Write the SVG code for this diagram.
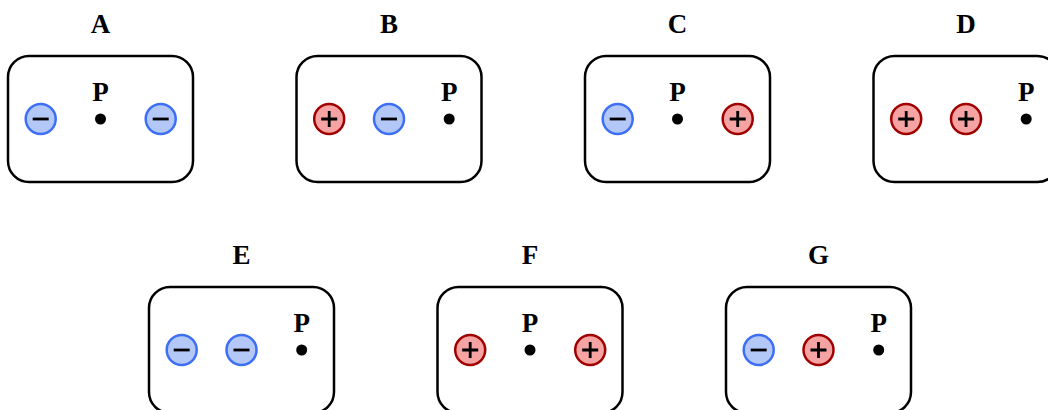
<svg xmlns="http://www.w3.org/2000/svg" width="1048" height="410" viewBox="0 0 1048 410">
<style>
.box{fill:#ffffff;stroke:#000000;stroke-width:2.5}
.title{font-family:"Liberation Serif",serif;font-weight:bold;font-size:27px;text-anchor:middle;fill:#000}
.neg{fill:#b4c8f8;stroke:#3d6ff5;stroke-width:2.5}
.pos{fill:#f5a3a3;stroke:#a00000;stroke-width:2.5}
.sign{stroke:#000;stroke-width:2.8;fill:none}
.dot{fill:#000}
</style>
<defs>
<g id="neg"><circle class="neg" r="15"/><path class="sign" d="M-8,0H8"/></g>
<g id="pos"><circle class="pos" r="15"/><path class="sign" d="M-8,0H8M0,-8V8"/></g>
</defs>
<rect width="1048" height="410" fill="#ffffff"/>
<g id="A" transform="translate(8,0)">
<text class="title" x="92.5" y="33">A</text>
<rect class="box" x="0" y="56" width="185" height="126" rx="21"/>
<use href="#neg" x="32.7" y="119"/>
<text class="title" x="92.5" y="101">P</text>
<circle class="dot" cx="92.5" cy="119" r="5.5"/>
<use href="#neg" x="152.7" y="119"/>
</g>
<g id="B" transform="translate(296.5,0)">
<text class="title" x="92.5" y="33">B</text>
<rect class="box" x="0" y="56" width="185" height="126" rx="21"/>
<use href="#pos" x="32.7" y="119"/>
<use href="#neg" x="92.5" y="119"/>
<text class="title" x="152.7" y="101">P</text>
<circle class="dot" cx="152.7" cy="119" r="5.5"/>
</g>
<g id="C" transform="translate(585,0)">
<text class="title" x="92.5" y="33">C</text>
<rect class="box" x="0" y="56" width="185" height="126" rx="21"/>
<use href="#neg" x="32.7" y="119"/>
<text class="title" x="92.5" y="101">P</text>
<circle class="dot" cx="92.5" cy="119" r="5.5"/>
<use href="#pos" x="152.7" y="119"/>
</g>
<g id="D" transform="translate(873.5,0)">
<text class="title" x="92.5" y="33">D</text>
<rect class="box" x="0" y="56" width="185" height="126" rx="21"/>
<use href="#pos" x="32.7" y="119"/>
<use href="#pos" x="92.5" y="119"/>
<text class="title" x="152.7" y="101">P</text>
<circle class="dot" cx="152.7" cy="119" r="5.5"/>
</g>
<g id="E" transform="translate(149,231)">
<text class="title" x="92.5" y="33">E</text>
<rect class="box" x="0" y="56" width="185" height="126" rx="21"/>
<use href="#neg" x="32.7" y="119"/>
<use href="#neg" x="92.5" y="119"/>
<text class="title" x="152.7" y="101">P</text>
<circle class="dot" cx="152.7" cy="119" r="5.5"/>
</g>
<g id="F" transform="translate(437.5,231)">
<text class="title" x="92.5" y="33">F</text>
<rect class="box" x="0" y="56" width="185" height="126" rx="21"/>
<use href="#pos" x="32.7" y="119"/>
<text class="title" x="92.5" y="101">P</text>
<circle class="dot" cx="92.5" cy="119" r="5.5"/>
<use href="#pos" x="152.7" y="119"/>
</g>
<g id="G" transform="translate(726,231)">
<text class="title" x="92.5" y="33">G</text>
<rect class="box" x="0" y="56" width="185" height="126" rx="21"/>
<use href="#neg" x="32.7" y="119"/>
<use href="#pos" x="92.5" y="119"/>
<text class="title" x="152.7" y="101">P</text>
<circle class="dot" cx="152.7" cy="119" r="5.5"/>
</g>
<g id="connectors"/>
</svg>
